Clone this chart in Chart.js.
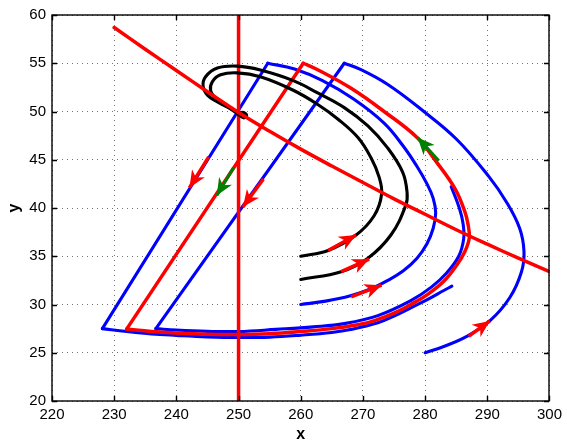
<!DOCTYPE html>
<html>
<head>
<meta charset="utf-8">
<script src="https://cdn.jsdelivr.net/npm/chart.js@4"></script>
<style>
  html, body { margin: 0; padding: 0; background: #fff; }
  canvas { display: block; }
</style>
</head>
<body>
<canvas id="c" width="567" height="443"></canvas>
<script>
// Axis ticks
const xTickValues = [220, 230, 240, 250, 260, 270, 280, 290, 300];
const yTickValues = [20, 25, 30, 35, 40, 45, 50, 55, 60];

// Nullclines
const nullclineCurve = [[230,58.7],[235,56.45],[240,54.25],[245,52.05],[250,49.9],[255,47.95],[260,46.1],[265,44.35],[270,42.65],[275,40.95],[280,39.35],[285,37.75],[290,36.25],[295,34.8],[300,33.4]];
const nullclineVertical = [[250,20],[250,60]];

// Orbits spiralling into the focus (no impulse)
const blackInner = [[260,35],[264.4,35.6],[268.9,37.2],[271.8,39.2],[273.0,41.4],[272.6,43.2],[271.3,45.2],[269.2,47.3],[266.0,49.2],[262.8,50.7],[258.8,52.2],[253.5,53.6],[249.8,54.0],[247.1,53.8],[245.8,53.1],[245.5,52.2],[246.3,51.4],[248.2,50.5],[249.8,49.8],[250.8,49.35],[251.3,49.55],[250.8,49.9],[250.2,49.85]];
const blackOuter = [[260,32.6],[266.5,33.4],[270.8,34.8],[274.5,37.2],[276.9,40.3],[277.1,41.6],[276.4,43.7],[274.0,46.2],[270.8,48.5],[267.0,50.4],[262.8,51.9],[258.8,53.2],[253.5,54.3],[249.8,54.7],[246.6,54.5],[244.7,53.6],[244.3,52.6],[245.0,51.7],[246.6,51.0],[248.7,50.3],[250.3,49.8],[251.0,49.5]];

// Order-1 periodic orbit: smooth arc plus impulsive jump
const cycleArc = [[232.0,27.45],[236,27.2],[240,27.05],[245,26.93],[250,26.9],[255,26.98],[260,27.2],[265,27.5],[270,28.0],[272.4,28.45],[275,29.1],[277.7,30.0],[280.3,31.0],[283.0,32.4],[285.1,34.1],[286.4,35.5],[287.1,36.9],[286.9,38.3],[286.4,39.6],[284.8,42.0],[281.9,44.7],[278.7,47.3],[273.4,50.0],[268.1,52.4],[262.8,54.3],[260.4,55.0]];
const cycleJump = [[260.4,55.0],[232.0,27.45]];

// Orbit starting at (260, 30)
const orbitA1 = [[260,30],[264,30.35],[268,30.9],[271,31.55],[274,32.5],[276.5,33.5],[278.7,34.8],[280.3,36.3],[281.3,37.9],[281.7,39.5],[281.3,41.0],[280.3,42.5],[278.7,44.3],[276.5,46.4],[273.4,48.8],[268.5,51.3],[263.5,53.2],[259,54.4],[254.7,55.0]];
const orbitAJump = [[254.7,55.0],[228.1,27.5]];
const orbitA2 = [[228.1,27.5],[232,27.2],[236,26.95],[240,26.8],[245,26.65],[250,26.58],[255,26.62],[260,26.82],[265,27.1],[268,27.4],[272.4,28.1],[275,28.8],[277.7,29.65],[280.5,30.55],[283,31.45],[284.3,31.9]];

// Orbit starting at (280, 25)
const orbitB1 = [[280,25],[283,25.65],[286.7,26.7],[290.4,28.3],[293.6,30.7],[295.5,33.4],[295.9,35.5],[295.2,37.9],[293.1,40.6],[290.2,43.3],[285.1,47.1],[279.8,50.0],[274,52.8],[269.5,54.4],[267,55.0]];
const orbitBJump = [[267,55.0],[236.7,27.5]];
const orbitB2 = [[236.7,27.5],[240,27.35],[245,27.22],[250,27.2],[256,27.42],[262,27.68],[267,28.02],[272.4,28.85],[277.7,30.4],[281,31.8],[283.5,33.3],[285.4,35.0],[286.2,36.8],[286.1,38.4],[285.5,40.0],[284.2,42.2]];

// Direction arrows: [tail, tip]
const redArrows = [
  [[264.4,35.6],[268.9,37.2]],
  [[266.5,33.4],[271.0,34.7]],
  [[268.1,30.8],[273.0,32.0]],
  [[287.0,26.7],[290.4,28.3]],
  [[245.2,45.3],[242.1,42.1]],
  [[254.0,43.0],[250.7,40.1]]
];
const greenArrows = [
  [[249.2,44.2],[246.5,41.3]],
  [[282.2,44.9],[278.8,47.3]]
];

const RED = '#ff0000', BLUE = '#0000ff', BLACK = '#000000', GREEN = '#008000';

function curve(points, color, extra) {
  return Object.assign({
    data: points.map(([x, y]) => ({ x, y })),
    borderColor: color,
    backgroundColor: color,
    borderWidth: color === RED ? 3.5 : 3.1,
    pointRadius: 0,
    pointHoverRadius: 0,
    showLine: true,
    fill: false,
    tension: 0.4,
    borderCapStyle: 'round',
    borderJoinStyle: 'round'
  }, extra || {});
}
const straight = { tension: 0 };
const arrow = { tension: 0, arrow: true, borderCapStyle: 'butt' };

// listed from bottom layer to top layer
const datasets = [
  curve(orbitA1, BLUE), curve(orbitAJump, BLUE, straight), curve(orbitA2, BLUE),
  curve(orbitB1, BLUE), curve(orbitBJump, BLUE, straight), curve(orbitB2, BLUE),
  curve(cycleArc, RED), curve(cycleJump, RED, straight),
  curve(nullclineVertical, RED, straight),
  curve(blackInner, BLACK), curve(blackOuter, BLACK),
  curve(nullclineCurve, RED),
  ...redArrows.map(a => curve(a, RED, arrow)),
  ...greenArrows.map(a => curve(a, GREEN, arrow))
];
datasets.forEach((d, i) => { d.order = datasets.length - i; });

// Filled, notched arrowheads at the tip of each arrow dataset
const arrowHeads = {
  id: 'arrowHeads',
  afterDatasetsDraw(chart) {
    const ctx = chart.ctx;
    chart.data.datasets.forEach((ds, i) => {
      if (!ds.arrow) return;
      const pts = chart.getDatasetMeta(i).data;
      const a = pts[pts.length - 2], b = pts[pts.length - 1];
      const ang = Math.atan2(b.y - a.y, b.x - a.x);
      ctx.save();
      ctx.translate(b.x, b.y);
      ctx.rotate(ang);
      ctx.beginPath();
      ctx.moveTo(0, 0);
      ctx.lineTo(-17, -7.5);
      ctx.lineTo(-12, 0);
      ctx.lineTo(-17, 7.5);
      ctx.closePath();
      ctx.fillStyle = ds.borderColor;
      ctx.fill();
      ctx.restore();
    });
  }
};

// Box around the plot with inward tick marks on all four sides
const frame = {
  id: 'frame',
  afterDraw(chart) {
    const { ctx, chartArea: a, scales } = chart;
    const L = Math.round(a.left), R = Math.round(a.right), T = Math.round(a.top), B = Math.round(a.bottom);
    ctx.save();
    ctx.strokeStyle = '#000';
    ctx.lineWidth = 1.4;
    ctx.beginPath();
    scales.x.ticks.forEach(t => {
      const p = Math.round(scales.x.getPixelForValue(t.value)) + 0.5;
      ctx.moveTo(p, B); ctx.lineTo(p, B - 5);
      ctx.moveTo(p, T); ctx.lineTo(p, T + 5);
    });
    scales.y.ticks.forEach(t => {
      const p = Math.round(scales.y.getPixelForValue(t.value)) + 0.5;
      ctx.moveTo(L, p); ctx.lineTo(L + 5, p);
      ctx.moveTo(R, p); ctx.lineTo(R - 5, p);
    });
    ctx.stroke();
    ctx.strokeRect(L, T, R - L, B - T);
    ctx.restore();
  }
};

const fontFamily = '"Liberation Sans", Arial, Helvetica, sans-serif';
const tickFont = { family: fontFamily, size: 15 };
const gridStyle = { color: 'rgba(0,0,0,0.55)', lineWidth: 1, drawTicks: false };
const borderStyle = { display: false, dash: [1, 4] };

new Chart(document.getElementById('c'), {
  type: 'scatter',
  data: { datasets },
  options: {
    responsive: false,
    devicePixelRatio: 1,
    animation: false,
    events: [],
    layout: { padding: { top: 11, right: 13, left: 0, bottom: 0 } },
    plugins: { legend: { display: false }, tooltip: { enabled: false } },
    scales: {
      x: {
        type: 'linear', min: 220, max: 300,
        afterBuildTicks(s) { s.ticks = xTickValues.map(v => ({ value: v })); },
        afterFit(s) { s.height = 42; },
        ticks: { font: tickFont, color: '#000', padding: 5, maxRotation: 0, autoSkip: false },
        grid: gridStyle,
        border: borderStyle,
        title: { display: true, text: 'x', color: '#000',
                 font: { family: fontFamily, size: 16, weight: 'bold', lineHeight: 1.0 },
                 padding: { top: 0, bottom: 0 } }
      },
      y: {
        type: 'linear', min: 20, max: 60,
        afterBuildTicks(s) { s.ticks = yTickValues.map(v => ({ value: v })); },
        afterFit(s) { s.width = 52; },
        ticks: { font: tickFont, color: '#000', padding: 6, autoSkip: false },
        grid: gridStyle,
        border: borderStyle,
        title: { display: true, text: 'y', color: '#000',
                 font: { family: fontFamily, size: 16, weight: 'bold', lineHeight: 1.2 },
                 padding: { top: 5, bottom: 0 } }
      }
    }
  },
  plugins: [arrowHeads, frame]
});
</script>
</body>
</html>
